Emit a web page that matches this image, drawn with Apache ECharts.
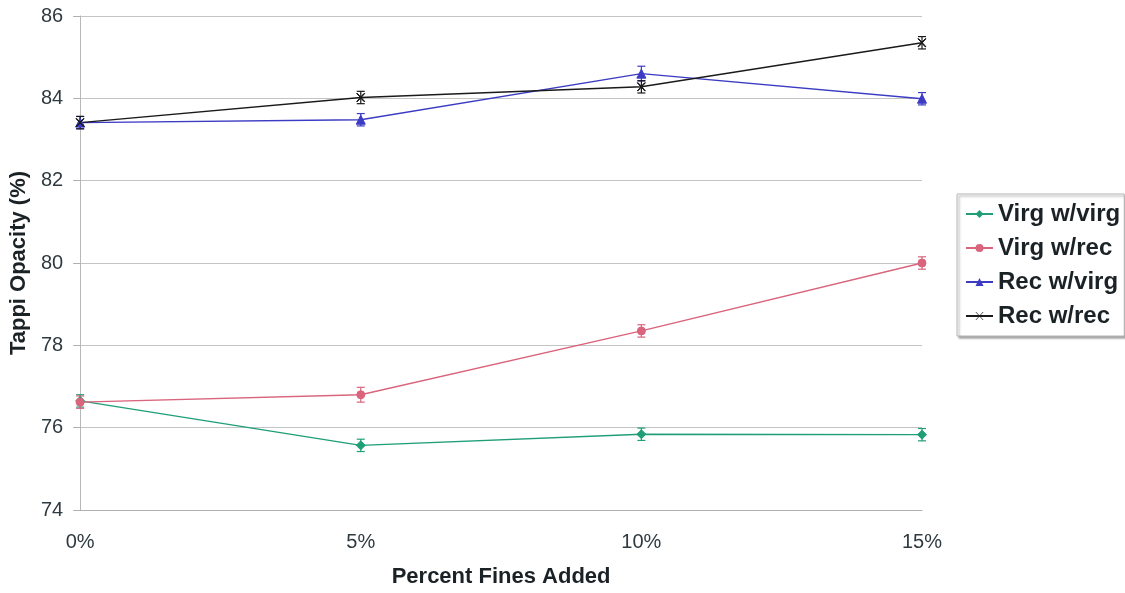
<!DOCTYPE html>
<html>
<head>
<meta charset="utf-8">
<script src="https://cdn.jsdelivr.net/npm/echarts@6/dist/echarts.min.js"></script>
<style>
  html, body { margin: 0; padding: 0; background: #fff; }
  #chart { width: 1125px; height: 593px; }
</style>
</head>
<body>
<div id="chart"></div>
<script>
// Fines level (x axis categories)
const categories = ['0%', '5%', '10%', '15%'];

// Tappi opacity (%) for each furnish combination
const virgWithVirg = [76.65, 75.57, 75.84, 75.83];
const virgWithRec  = [76.62, 76.80, 78.35, 80.00];
const recWithVirg  = [83.41, 83.48, 84.60, 83.99];
const recWithRec   = [83.41, 84.02, 84.28, 85.35];

// Error bar half-widths (± opacity %)
const virgWithVirgErr = [0.15, 0.15, 0.15, 0.15];
const virgWithRecErr  = [0.15, 0.18, 0.15, 0.15];
const recWithVirgErr  = [0.15, 0.15, 0.18, 0.15];
const recWithRecErr   = [0.15, 0.15, 0.15, 0.15];

const seriesNames = ['Virg w/virg', 'Virg w/rec', 'Rec w/virg', 'Rec w/rec'];

const colors = {
  green: '#1f9e78',
  pink: '#d9647c',
  blue: '#3b3bc4',
  black: '#1a1a1a'
};

const crossSymbol = 'path://M0,0 L10,10 M10,0 L0,10 M0,0 L1,0 L11,10 L10,10 Z M10,0 L11,0 L1,10 L0,10 Z';

function lineSeries(name, data, color, symbol, size) {
  return {
    name: name,
    type: 'line',
    data: data,
    symbol: symbol,
    symbolSize: size,
    showAllSymbol: true,
    lineStyle: { color: color, width: 1.4 },
    itemStyle: { color: color, borderColor: color },
    z: 3
  };
}

function errorSeries(values, errs, color) {
  return {
    type: 'custom',
    silent: true,
    z: 2,
    data: values.map((v, i) => [i, v - errs[i], v + errs[i]]),
    renderItem: function (params, api) {
      const lo = api.coord([api.value(0), api.value(1)]);
      const hi = api.coord([api.value(0), api.value(2)]);
      const x = lo[0];
      const cap = 4;
      const style = { stroke: color, lineWidth: 1.2 };
      return {
        type: 'group',
        children: [
          { type: 'line', shape: { x1: x, y1: lo[1], x2: x, y2: hi[1] }, style: style },
          { type: 'line', shape: { x1: x - cap, y1: lo[1], x2: x + cap, y2: lo[1] }, style: style },
          { type: 'line', shape: { x1: x - cap, y1: hi[1], x2: x + cap, y2: hi[1] }, style: style }
        ]
      };
    }
  };
}

const chart = echarts.init(document.getElementById('chart'), null, { renderer: 'canvas' });

const fontFamily = '"Liberation Sans", Arial, sans-serif';
const labelColor = '#2f3a40';
const titleColor = '#1b2226';

chart.setOption({
  backgroundColor: '#ffffff',
  animation: false,
  textStyle: { fontFamily: fontFamily },
  grid: { left: 80, right: 203, top: 16, bottom: 80 },
  legend: {
    data: seriesNames,
    orient: 'vertical',
    left: 957,
    top: 194,
    padding: [8, 4, 8, 8],
    itemGap: 10,
    itemWidth: 27,
    itemHeight: 10,
    borderColor: '#b5b5b5',
    borderWidth: 1,
    backgroundColor: '#ffffff',
    shadowColor: 'rgba(0,0,0,0.35)',
    shadowBlur: 2,
    shadowOffsetX: 2,
    shadowOffsetY: 2,
    textStyle: {
      fontFamily: fontFamily,
      fontSize: 24,
      fontWeight: 'bold',
      color: titleColor
    }
  },
  xAxis: {
    type: 'category',
    data: categories,
    boundaryGap: false,
    name: 'Percent Fines Added',
    nameLocation: 'middle',
    nameGap: 56,
    nameTextStyle: { fontFamily: fontFamily, fontSize: 22, fontWeight: 'bold', color: titleColor },
    axisLine: { show: true, lineStyle: { color: '#b0b0b0', width: 1 } },
    axisTick: { show: false },
    axisLabel: { fontFamily: fontFamily, fontSize: 20, color: labelColor, margin: 22 },
    splitLine: { show: false }
  },
  yAxis: {
    type: 'value',
    min: 74,
    max: 86,
    interval: 2,
    name: 'Tappi Opacity (%)',
    nameLocation: 'middle',
    nameGap: 46,
    nameTextStyle: { fontFamily: fontFamily, fontSize: 22, fontWeight: 'bold', color: titleColor },
    axisLine: { show: true, lineStyle: { color: '#b8b8b8', width: 1 } },
    axisTick: { show: true, inside: false, length: 7, lineStyle: { color: '#b0b0b0' } },
    axisLabel: { fontFamily: fontFamily, fontSize: 20, color: labelColor, margin: 17 },
    splitLine: { show: true, lineStyle: { color: '#c4c4c4', width: 1 } }
  },
  series: [
    errorSeries(virgWithVirg, virgWithVirgErr, colors.green),
    errorSeries(virgWithRec, virgWithRecErr, colors.pink),
    errorSeries(recWithVirg, recWithVirgErr, colors.blue),
    errorSeries(recWithRec, recWithRecErr, colors.black),
    lineSeries(seriesNames[0], virgWithVirg, colors.green, 'diamond', 9),
    lineSeries(seriesNames[1], virgWithRec, colors.pink, 'circle', 8),
    lineSeries(seriesNames[2], recWithVirg, colors.blue, 'triangle', 9),
    lineSeries(seriesNames[3], recWithRec, colors.black, crossSymbol, 8)
  ]
});
</script>
</body>
</html>
